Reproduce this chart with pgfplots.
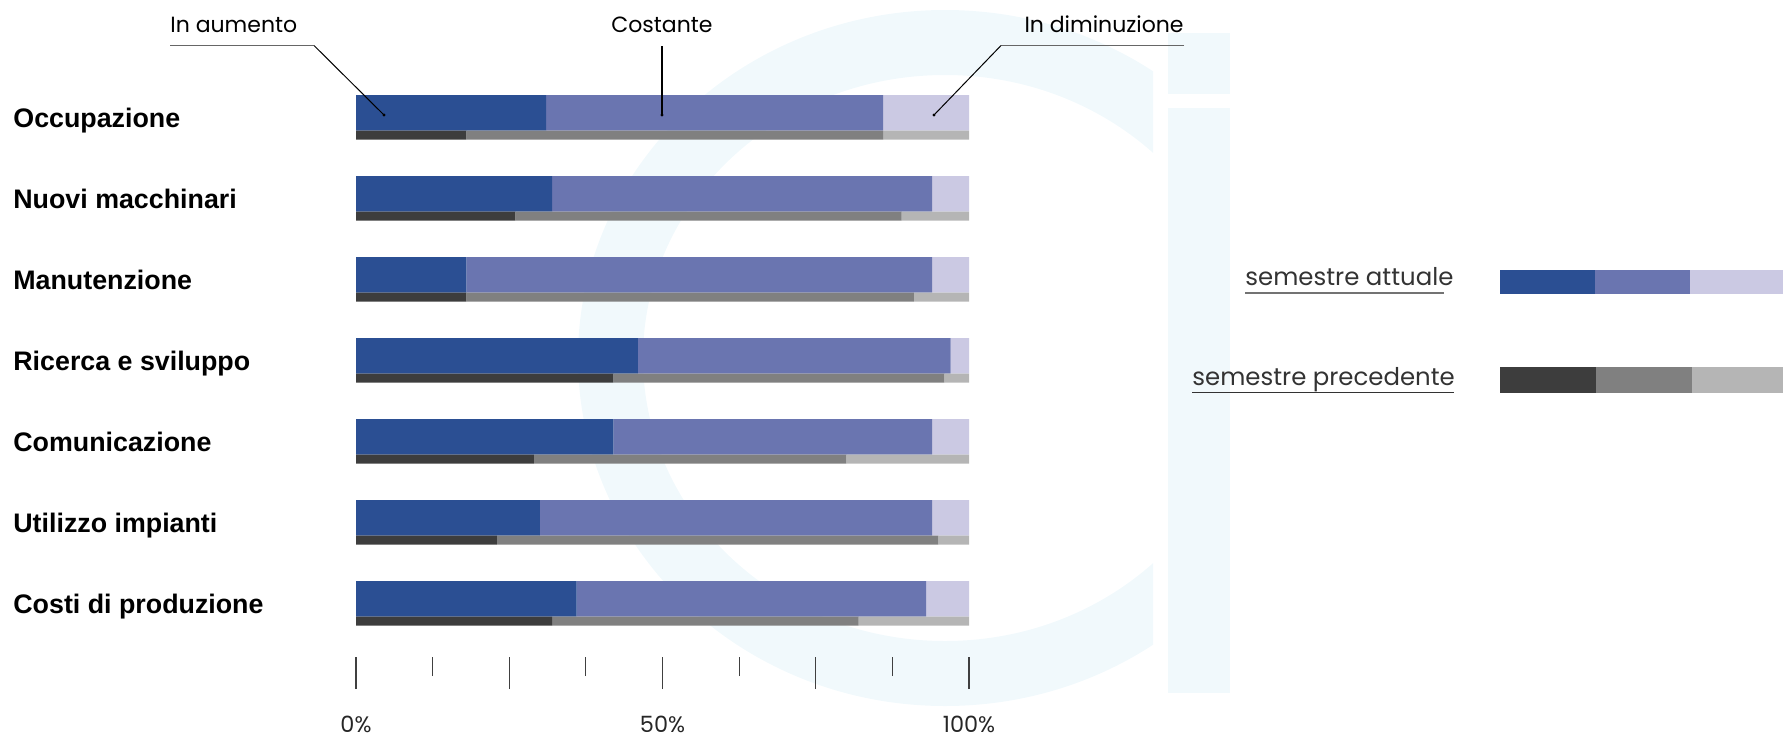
\documentclass[border=0pt]{standalone}
\usepackage{pgfplots}
\pgfplotsset{compat=1.18}
\usepackage{pgfplotstable}
\usepackage{fontspec}
\setmainfont{Poppins}
\newfontfamily\labfont{Liberation Sans}
\definecolor{cA}{HTML}{2B4F93}
\definecolor{cC}{HTML}{6A75B0}
\definecolor{cD}{HTML}{CBC9E3}
\definecolor{gA}{HTML}{3D3D3D}
\definecolor{gC}{HTML}{808080}
\definecolor{gD}{HTML}{B5B5B5}
\definecolor{wm}{HTML}{F1F9FC}

% y = vertical position (px from top), a = in aumento, c = costante, d = in diminuzione
\pgfplotstableread{
y a c d
112.75 31 55 14
193.75 32 62 6
274.75 18 76 6
355.75 46 51 3
436.75 42 52 6
517.75 30 64 6
598.75 36 57 7
}\cur
\pgfplotstableread{
y a c d
135 18 68 14
216 26 63 11
297 18 73 9
378 42 54 4
459 29 51 20
540 23 72 5
621 32 50 18
}\prev

\pgfplotsset{base/.style={scale only axis, width=306.5pt, height=328.5pt,
  at={(178pt,-328.5pt)}, anchor=south west,
  xmin=0, xmax=100, ymin=0, ymax=657, y dir=reverse,
  axis line style={draw=none}, clip=false, xbar stacked, ytick=\empty,
  enlargelimits=false}}

\begin{document}
\begin{tikzpicture}
\path[use as bounding box] (0pt,0pt) rectangle (891.5pt,-370pt);
\begin{scope}[x=0.5pt,y=-0.5pt]
  \begin{scope}
    \clip (0,0) rectangle (1153,740);
    \fill[wm, even odd rule] (945,358) ellipse [x radius=367, y radius=348]
                             (945,358) ellipse [x radius=302, y radius=283];
  \end{scope}
  \fill[wm] (1168,33) rectangle (1230,94);
  \fill[wm] (1168,107.5) rectangle (1230,693);
\end{scope}

\begin{axis}[base, bar width=35.5,
  xtick={0,25,50,75,100}, xticklabels={0\%,,50\%,,100\%},
  minor xtick={12.5,37.5,62.5,87.5}, xtick pos=bottom,
  tick align=outside, major tick length=16pt, minor tick length=9.5pt,
  tick style={draw=black!75, line width=0.6pt},
  xticklabel style={anchor=base, yshift=-21.5pt, text depth=0pt, inner sep=0pt,
    font=\fontsize{11.2pt}{13pt}\selectfont, text=black!85}]
\addplot[fill=cA, draw=none] table[x=a, y=y] {\cur};
\addplot[fill=cC, draw=none] table[x=c, y=y] {\cur};
\addplot[fill=cD, draw=none] table[x=d, y=y] {\cur};
\end{axis}

\begin{axis}[base, bar width=9, xtick=\empty]
\addplot[fill=gA, draw=none] table[x=a, y=y] {\prev};
\addplot[fill=gC, draw=none] table[x=c, y=y] {\prev};
\addplot[fill=gD, draw=none] table[x=d, y=y] {\prev};
\end{axis}

\begin{scope}[x=0.5pt,y=-0.5pt]
  % category labels
  \begin{scope}[every node/.style={anchor=base west, inner sep=0pt, font=\labfont\bfseries\fontsize{13.4pt}{16pt}\selectfont}]
    \node at (13,127) {Occupazione};
    \node at (13,208) {Nuovi macchinari};
    \node at (13,289) {Manutenzione};
    \node at (13,370) {Ricerca e sviluppo};
    \node at (13,451) {Comunicazione};
    \node at (13,532) {Utilizzo impianti};
    \node at (13,613) {Costi di produzione};
  \end{scope}
  % annotations
  \begin{scope}[every node/.style={inner sep=0pt, font=\fontsize{11pt}{13pt}\selectfont}]
    \node[anchor=base west] at (170,32) {In aumento};
    \node[anchor=base] at (662,32) {Costante};
    \node[anchor=base east] at (1184,32) {In diminuzione};
  \end{scope}
  \draw[black!60, line width=0.6pt] (170,45.5) -- (314,45.5);
  \draw[black, line width=0.5pt] (314,45.5) -- (384,115);
  \draw[black, line width=0.6pt] (662,46) -- (662,115);
  \draw[black!60, line width=0.6pt] (1184,45.5) -- (1001,45.5);
  \draw[black, line width=0.5pt] (1001,45.5) -- (934,115);
  \fill (384,115) circle (1.6) (662,115) circle (1.6) (934,115) circle (1.6);
  % legend
  \begin{scope}[every node/.style={inner sep=0pt, anchor=base west, font=\fontsize{12.2pt}{14pt}\selectfont, text=black!80}]
    \node at (1245,285) {semestre attuale};
    \node at (1192,385) {semestre precedente};
  \end{scope}
  \draw[black!55, line width=0.7pt] (1245,293) -- (1444,293);
  \draw[black!80, line width=0.7pt] (1192,392.5) -- (1454,392.5);
  \fill[cA] (1500,270) rectangle (1595,294);
  \fill[cC] (1595,270) rectangle (1690,294);
  \fill[cD] (1690,270) rectangle (1783,294);
  \fill[gA] (1500,367) rectangle (1596,393);
  \fill[gC] (1596,367) rectangle (1692,393);
  \fill[gD] (1692,367) rectangle (1783,393);
\end{scope}
\end{tikzpicture}
\end{document}
